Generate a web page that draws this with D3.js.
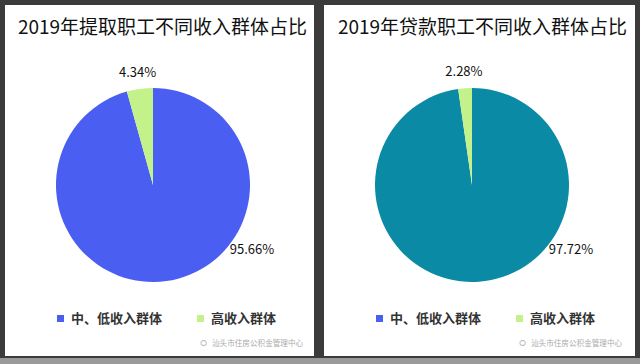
<!DOCTYPE html>
<html lang="zh">
<head>
<meta charset="UTF-8">
<title>2019年职工不同收入群体占比</title>
<script src="https://cdn.jsdelivr.net/npm/d3@7"></script>
<style>
  body { margin: 0; background: #3b3b3b; }
  svg { display: block; font-family: "Noto Sans CJK SC", "Noto Sans", sans-serif; }
</style>
</head>
<body>
<script>
// data
var titles = ["2019年提取职工不同收入群体占比", "2019年贷款职工不同收入群体占比"];
var groups = ["中、低收入群体", "高收入群体"];
var withdrawValues = [95.66, 4.34];
var loanValues = [97.72, 2.28];
var source = "汕头市住房公积金管理中心";

var W = 640, H = 364;
var svg = d3.select("body").append("svg")
  .attr("width", W)
  .attr("height", H);

svg.append("rect").attr("width", W).attr("height", H).attr("fill", "#3b3b3b");
svg.append("rect").attr("y", 358).attr("width", W).attr("height", 6).attr("fill", "#9a9a9a");

var legendColors = ["#4b5ef2", "#c4f28a"];
var panels = [
  { x: 5, w: 309, title: titles[0], values: withdrawValues, colors: ["#4b5ef2", "#c4f28a"], labelDx: 99 },
  { x: 324, w: 311, title: titles[1], values: loanValues, colors: ["#0b8aa6", "#c4f28a"], labelDx: 99 }
];

var pie = d3.pie().sort(null).value(function(d) { return d; });
var r = 97;
var arc = d3.arc().innerRadius(0).outerRadius(r);
var labelArc = d3.arc().innerRadius(r + 16).outerRadius(r + 16);

panels.forEach(function(p) {
  var g = svg.append("g").attr("transform", "translate(" + p.x + ",5)");
  g.append("rect").attr("width", p.w).attr("height", 351).attr("fill", "#fff");

  g.append("text")
    .attr("x", p.w / 2 + 3)
    .attr("y", 29)
    .attr("text-anchor", "middle")
    .attr("font-size", 19)
    .attr("fill", "#111")
    .text(p.title);

  var cx = 148, cy = 180;
  var pg = g.append("g").attr("transform", "translate(" + cx + "," + cy + ")");
  var arcs = pie(p.values);

  pg.selectAll("path")
    .data(arcs)
    .enter().append("path")
    .attr("d", arc)
    .attr("fill", function(d, i) { return p.colors[i]; });

  pg.selectAll("text.lbl")
    .data(arcs)
    .enter().append("text")
    .attr("class", "lbl")
    .attr("text-anchor", "middle")
    .attr("font-size", 13)
    .attr("fill", "#111")
    .attr("transform", function(d, i) {
      if (i === 1) {
        var c = labelArc.centroid(d);
        return "translate(" + c[0] + "," + (c[1] + 4) + ")";
      }
      return "translate(" + p.labelDx + "," + (r * 0.67 + 4) + ")";
    })
    .text(function(d) { return d.data.toFixed(2) + "%"; });

  // legend
  var lx = [52, 192];
  groups.forEach(function(name, i) {
    g.append("rect")
      .attr("x", lx[i])
      .attr("y", 310)
      .attr("width", 7)
      .attr("height", 7)
      .attr("fill", legendColors[i]);
    g.append("text")
      .attr("x", lx[i] + 14)
      .attr("y", 318)
      .attr("font-size", 13)
      .attr("font-weight", "bold")
      .attr("fill", "#333")
      .text(name);
  });

  // watermark
  g.append("text")
    .attr("x", 195)
    .attr("y", 341)
    .attr("font-size", 8)
    .attr("fill", "#bbb")
    .text("ⵔ");
  g.append("text")
    .attr("x", 207)
    .attr("y", 341)
    .attr("font-size", 7.6)
    .attr("fill", "#aaa")
    .text(source);
});
</script>
</body>
</html>
